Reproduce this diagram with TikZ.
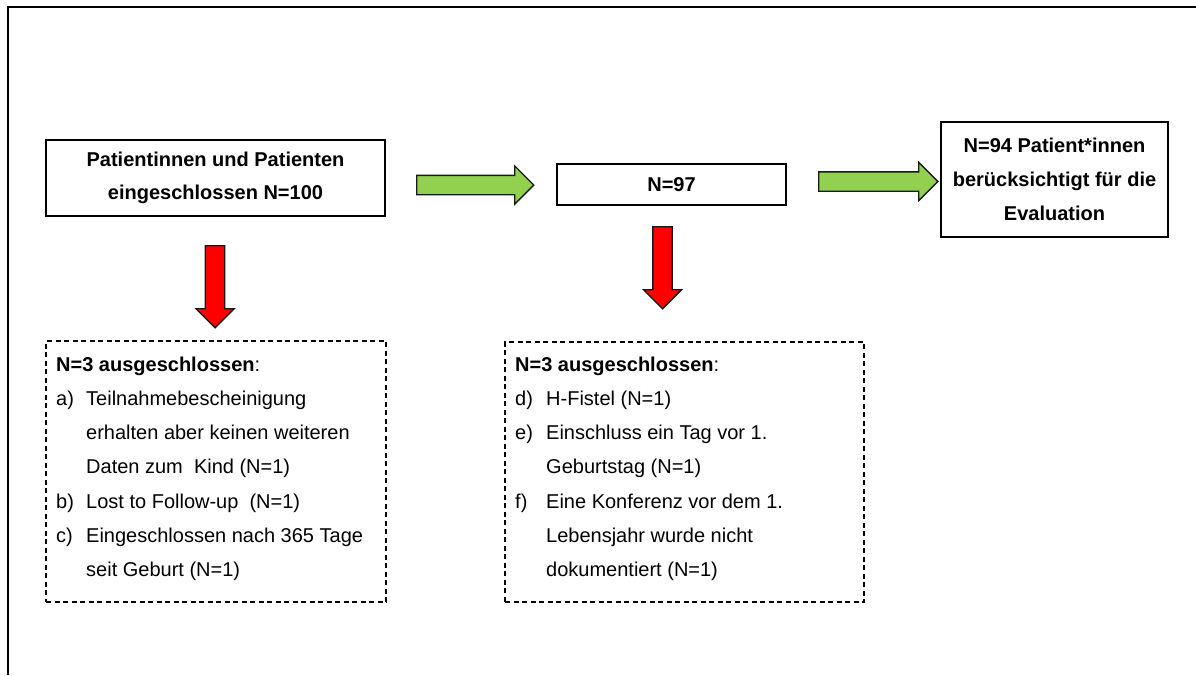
\documentclass[tikz,border=0pt]{standalone}
\usepackage{fontspec}
\setmainfont{Liberation Sans}
\usetikzlibrary{shapes.arrows}
\definecolor{flowgreen}{HTML}{92D050}
\definecolor{flowred}{HTML}{FF0000}
\begin{document}
\begin{tikzpicture}[x=1pt,y=-1pt,
  box/.style={draw=black, line width=1.4pt, fill=white, inner sep=0pt,
    align=center, font=\bfseries\fontsize{20}{33}\selectfont},
  exclbox/.style={draw=black, line width=1.2pt, dash pattern=on 5pt off 3.5pt,
    inner sep=0pt},
  exclist/.style={inner sep=0pt, anchor=base west,
    font=\fontsize{20}{34.3}\selectfont},
  blockarrow/.style={single arrow, draw=black!90, line width=1.3pt,
    inner sep=9pt, single arrow head extend=9.5pt, single arrow tip angle=90},
  greenarrow/.style={blockarrow, fill=flowgreen},
  redarrow/.style={blockarrow, fill=flowred, rotate=-90},
]
\useasboundingbox (0,0) rectangle (1196,675);
\fill[white] (0,0) rectangle (1196,675);

% outer frame
\draw[line width=2.2pt] (8,675) -- (8,7) -- (1196,7);

% main flow boxes
\node[box, minimum width=339pt, minimum height=76pt] (incl) at (215.5,178)
  {Patientinnen und Patienten\\eingeschlossen N=100};
\node[box, minimum width=229pt, minimum height=41pt] (n97) at (671.5,184.5)
  {N=97};
\node[box, minimum width=227pt, minimum height=115pt,
  font=\bfseries\fontsize{20}{34}\selectfont] (eval) at (1054.5,179.5)
  {N=94 Patient*innen\\berücksichtigt für die\\Evaluation};

% block arrows
\node[greenarrow, minimum height=117pt] (g1) at (470.5,185) {};
\node[greenarrow, minimum height=119pt] (g2) at (873.5,181.5) {};
\node[redarrow, minimum height=82pt] (r1) at (215,282) {};
\node[redarrow, minimum height=82pt] (r2) at (662.5,263) {};

% exclusion boxes
\node[exclbox, minimum width=340pt, minimum height=261pt] (ex1) at (216,471.5) {};
\node[exclbox, minimum width=359pt, minimum height=260pt] (ex2) at (684.5,472) {};

\node[exclist] (ex1text) at (56,371) {%
  \begin{tabular}[t]{@{}p{30pt}@{}l@{}}
  \multicolumn{2}{@{}l@{}}{\textbf{N=3 ausgeschlossen}:}\\
  a) & Teilnahmebescheinigung\\
     & erhalten aber keinen weiteren\\
     & Daten zum\ \ Kind (N=1)\\
  b) & Lost to Follow-up\ \ (N=1)\\
  c) & Eingeschlossen nach 365 Tage\\
     & seit Geburt (N=1)
  \end{tabular}};

\node[exclist] (ex2text) at (515,371) {%
  \begin{tabular}[t]{@{}p{31pt}@{}l@{}}
  \multicolumn{2}{@{}l@{}}{\textbf{N=3 ausgeschlossen}:}\\
  d) & H-Fistel (N=1)\\
  e) & Einschluss ein Tag vor 1.\\
     & Geburtstag (N=1)\\
  f) & Eine Konferenz vor dem 1.\\
     & Lebensjahr wurde nicht\\
     & dokumentiert (N=1)
  \end{tabular}};
\end{tikzpicture}
\end{document}
